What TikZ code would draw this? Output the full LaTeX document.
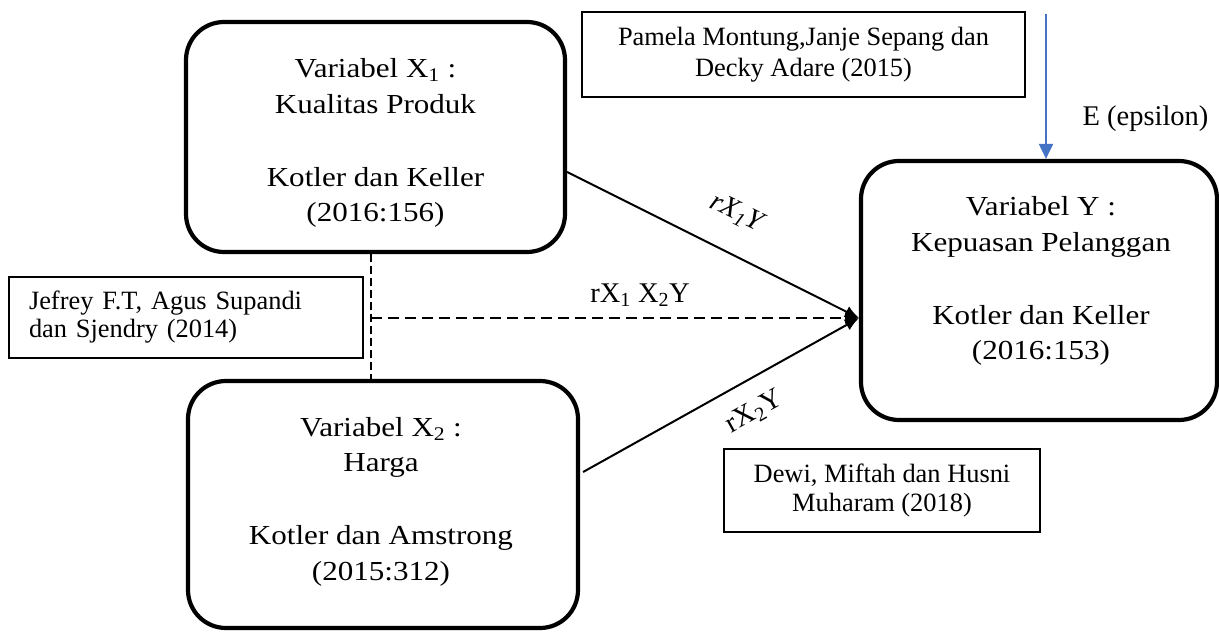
\documentclass[tikz,border=0pt]{standalone}
\usepackage{fontspec}
\setmainfont{Liberation Serif}
\newfontfamily\widefont[FakeStretch=1.13]{Liberation Serif}
\usetikzlibrary{arrows.meta}
\definecolor{eblue}{RGB}{68,114,196}
\tikzset{
  bigbox/.style={draw, line width=4.2pt, rounded corners=38pt, inner sep=0pt},
  bigtext/.style={align=center, inner sep=0pt, font=\widefont\fontsize{27.5pt}{35.5pt}\selectfont},
  refbox/.style={draw, line width=1.6pt, inner sep=0pt},
  link/.style={line width=2pt, -{Latex[length=14pt,width=12pt]}},
  hdash/.style={line width=2pt, dash pattern=on 11pt off 6pt, -{Latex[length=14pt,width=12pt]}},
  vdash/.style={line width=2pt, dash pattern=on 8pt off 4pt},
  elabel/.style={font=\fontsize{28.5pt}{30pt}\selectfont, inner sep=0pt},
}
\begin{document}
\begin{tikzpicture}[x=1pt,y=-1pt]
\useasboundingbox (0,0) rectangle (1219,634);
% main boxes
\node[bigbox, minimum width=379pt, minimum height=230pt] (X1) at (375.5,137) {};
\node[bigtext] (X1t) at (375.5,143) {Variabel X\textsubscript{1} :\\Kualitas Produk\\[37.5pt]Kotler dan Keller\\(2016:156)};
\node[bigbox, minimum width=390pt, minimum height=247pt] (X2) at (383,504.5) {};
\node[bigtext] (X2t) at (381,501.5) {Variabel X\textsubscript{2} :\\Harga\\[37.5pt]Kotler dan Amstrong\\(2015:312)};
\node[bigbox, minimum width=356pt, minimum height=259pt] (Y) at (1039,290.5) {};
\node[bigtext] (Yt) at (1041,281) {Variabel Y :\\Kepuasan Pelanggan\\[37.5pt]Kotler dan Keller\\(2016:153)};
% reference boxes
\node[refbox, minimum width=354pt, minimum height=81pt, inner xsep=20pt, text width=314pt, align=left,
      font=\fontsize{26.4pt}{28pt}\selectfont] (jef) at (186,317.5) {Jefrey F.T, Agus Supandi\\dan Sjendry (2014)};
\node[refbox, minimum width=443pt, minimum height=85pt, align=center,
      font=\fontsize{26.4pt}{31pt}\selectfont] (pam) at (803.5,54.5) {Pamela Montung,Janje Sepang dan\\Decky Adare (2015)};
\node[refbox, minimum width=316pt, minimum height=83pt, align=center,
      font=\fontsize{26.4pt}{29pt}\selectfont] (dew) at (882,490.5) {Dewi, Miftah dan Husni\\Muharam (2018)};
% coordinates
\coordinate (tip) at (859,318);
\coordinate (jn) at (371,318);
\coordinate (etop) at (1046,14);
% connectors
\draw[link] ([yshift=-35pt]X1.east) -- (tip);
\draw[link] ([yshift=32.5pt,xshift=3pt]X2.east) -- (tip);
\draw[vdash] (X1.south -| jn) -- (X2.north -| jn);
\draw[hdash] (jn) -- (tip);
\draw[eblue, line width=2pt, -{Triangle[length=15pt,width=14pt]}] (etop) -- (etop |- Y.north);
% labels
\node[elabel, anchor=base] (eps) at (1145.5,125) {E (epsilon)};
\node[elabel, anchor=base] (r12) at (640,302) {rX\textsubscript{1} X\textsubscript{2}Y};
\node[elabel, rotate=-26.6] (r1) at (736,213) {\itshape rX\textsubscript{1}Y};
\node[elabel, rotate=29] (r2) at (754.5,412.5) {rX\textsubscript{2}Y};
\end{tikzpicture}
\end{document}
